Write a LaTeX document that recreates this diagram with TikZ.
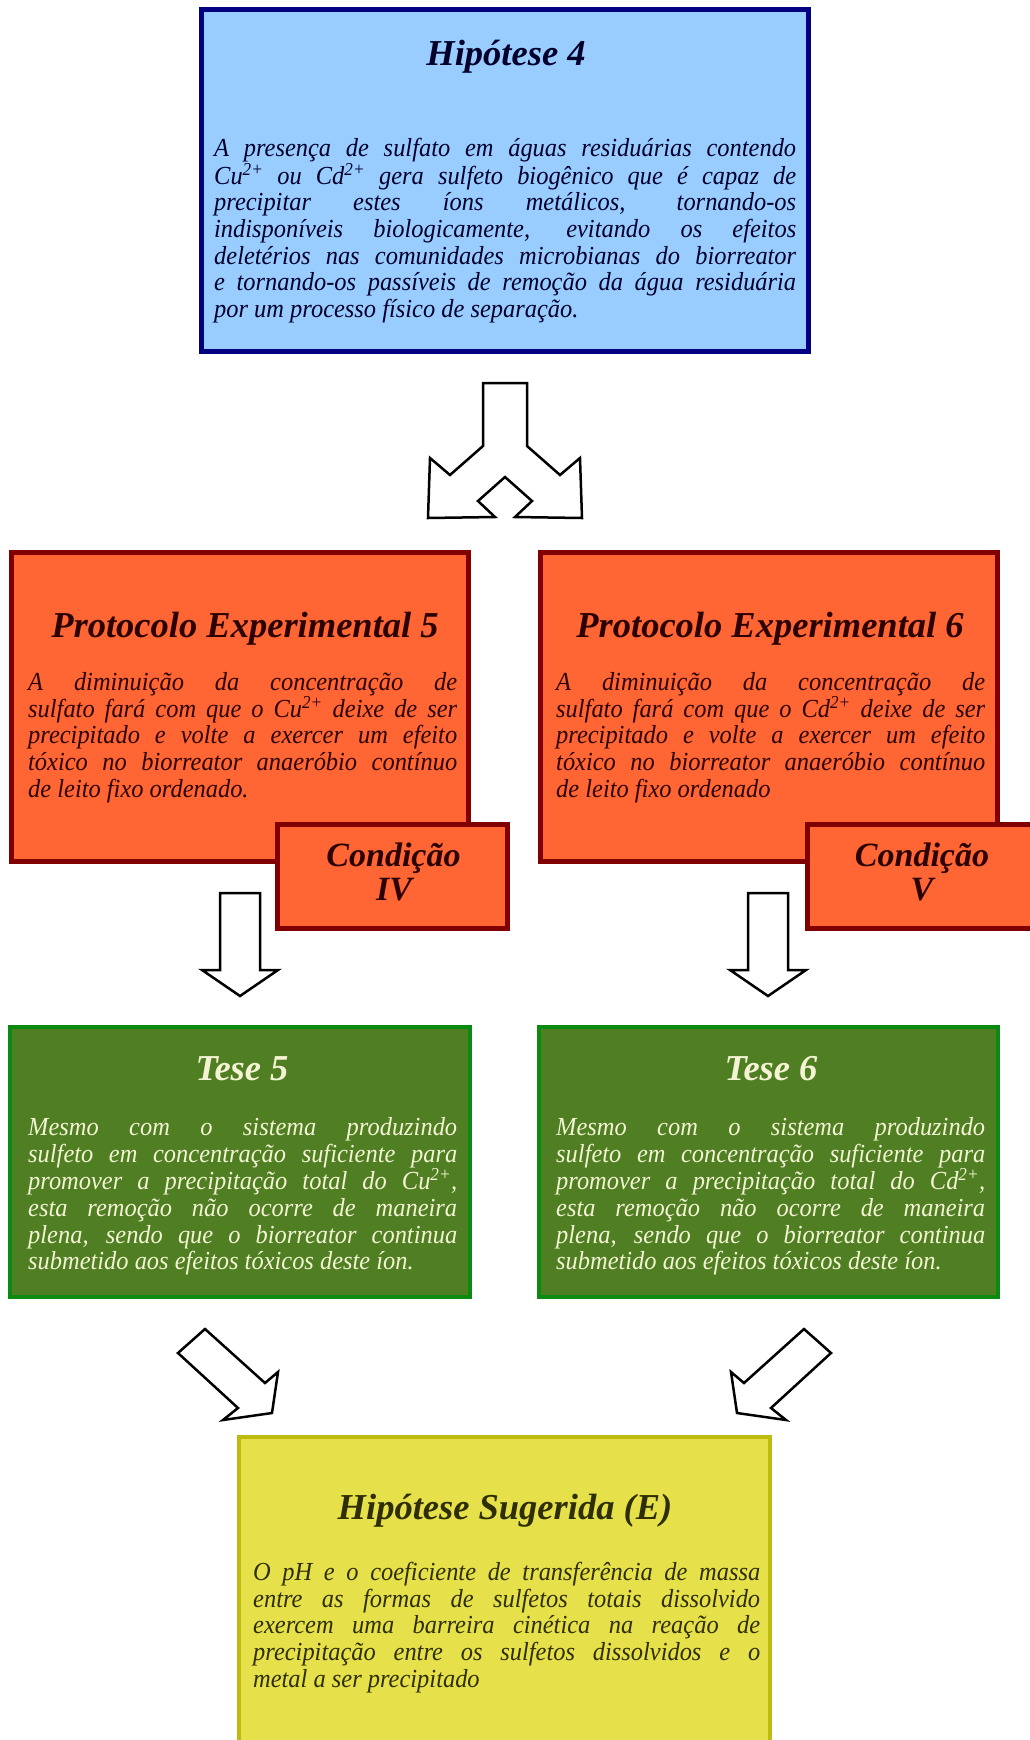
\documentclass[tikz,border=0pt]{standalone}
\usepackage{fontspec}
\setmainfont{Liberation Serif}
\newfontfamily\bodyfam[FakeStretch=0.94]{Liberation Serif}
\definecolor{hypfill}{HTML}{99CCFF}
\definecolor{hypdraw}{HTML}{000080}
\definecolor{hyptext}{HTML}{00002B}
\definecolor{prfill}{HTML}{FF6633}
\definecolor{prdraw}{HTML}{800000}
\definecolor{prtext}{HTML}{2B0000}
\definecolor{tsfill}{HTML}{4F7F22}
\definecolor{tsdraw}{HTML}{0B8A12}
\definecolor{tstext}{HTML}{F4F4D4}
\definecolor{sgfill}{HTML}{E6E04A}
\definecolor{sgdraw}{HTML}{BDBA10}
\definecolor{sgtext}{HTML}{2E2E00}
\newlength\jwd
\newcommand\bodyfnt{\bodyfam\fontsize{26}{26.6}\selectfont\itshape}
\newcommand\ttlfnt{\fontsize{36.5}{30}\selectfont\bfseries\itshape}
\newcommand\cndfnt{\fontsize{34}{30}\selectfont\bfseries\itshape}
\newcommand\jline[1]{\makebox[\jwd][s]{#1}\\}
\newcommand\sst[1]{\setlength\jwd{#1}\spaceskip=0pt\xspaceskip=0pt\noindent\rule{0pt}{26pt}\ignorespaces}
\newcommand\tsup[1]{\textsuperscript{#1}}
\tikzset{
  box/.style={draw, rectangle, inner sep=0pt},
  bodytxt/.style={anchor=north west, inner sep=0pt, align=justify, font=\bodyfnt},
  ttl/.style={anchor=base, inner sep=0pt, font=\ttlfnt},
  cnd/.style={anchor=base, inner sep=0pt, font=\cndfnt},
  blockarrow/.style={draw=black, fill=white, line width=2.5pt, line join=miter},
}
\begin{document}
\begin{tikzpicture}[x=1pt, y=-1pt]
\useasboundingbox[fill=white] (0,0) rectangle (1029,1740);

% Hipotese 4
\node[box, fill=hypfill, draw=hypdraw, line width=5pt, minimum width=607pt, minimum height=342pt] (hyp4) at (504.5,180) {};
\node[ttl, text=hyptext] (hyp4t) at (506,65) {Hipótese 4};
\node[bodytxt, text=hyptext, text width=582pt] (hyp4b) at (214,130.5) {\sst{582pt}%
\jline{A presença de sulfato em águas residuárias contendo}%
\jline{Cu\tsup{2+} ou Cd\tsup{2+} gera sulfeto biogênico que é capaz de}%
\jline{precipitar estes íons metálicos, tornando-os}%
\jline{indisponíveis biologicamente, evitando os efeitos}%
\jline{deletérios nas comunidades microbianas do biorreator}%
\jline{e tornando-os passíveis de remoção da água residuária}%
por um processo físico de separação.};

% split arrow
\draw[blockarrow] (483,383) -- (527,383) -- (527,446) -- (560,475) -- (580,458) -- (582,518) -- (515,517) -- (532,501) -- (505,477) -- (478,501) -- (495,517) -- (428,518) -- (430,458) -- (450,475) -- (483,446) -- cycle;

% Protocolo 5
\node[box, fill=prfill, draw=prdraw, line width=5pt, minimum width=457pt, minimum height=309pt] (p5) at (239.5,706.5) {};
\node[ttl, text=prtext] (p5t) at (245,637) {Protocolo Experimental 5};
\node[bodytxt, text=prtext, text width=429pt] (p5b) at (28,664.5) {\sst{429pt}%
\jline{A diminuição da concentração de}%
\jline{sulfato fará com que o Cu\tsup{2+} deixe de ser}%
\jline{precipitado e volte a exercer um efeito}%
\jline{tóxico no biorreator anaeróbio contínuo}%
de leito fixo ordenado.};
\node[box, fill=prfill, draw=prdraw, line width=5pt, minimum width=230pt, minimum height=104pt] (c4) at (392,876) {};
\node[cnd, text=prtext] (c4a) at (393.5,866) {Condição};
\node[cnd, text=prtext] (c4b) at (394,900) {IV};

% Protocolo 6
\node[box, fill=prfill, draw=prdraw, line width=5pt, minimum width=457pt, minimum height=309pt] (p6) at (768.5,706.5) {};
\node[ttl, text=prtext] (p6t) at (770,637) {Protocolo Experimental 6};
\node[bodytxt, text=prtext, text width=429pt] (p6b) at (556,664.5) {\sst{429pt}%
\jline{A diminuição da concentração de}%
\jline{sulfato fará com que o Cd\tsup{2+} deixe de ser}%
\jline{precipitado e volte a exercer um efeito}%
\jline{tóxico no biorreator anaeróbio contínuo}%
de leito fixo ordenado};
\node[box, fill=prfill, draw=prdraw, line width=5pt, minimum width=230pt, minimum height=104pt] (c5) at (922,876) {};
\node[cnd, text=prtext] (c5a) at (922,866) {Condição};
\node[cnd, text=prtext] (c5b) at (922,900) {V};

% down arrows
\draw[blockarrow] (220,893) -- (260,893) -- (260,970) -- (278,970) -- (240,996) -- (202,970) -- (220,970) -- cycle;
\draw[blockarrow] (748,893) -- (788,893) -- (788,970) -- (806,970) -- (768,996) -- (730,970) -- (748,970) -- cycle;

% Tese 5
\node[box, fill=tsfill, draw=tsdraw, line width=4.5pt, minimum width=460pt, minimum height=270pt] (t5) at (240,1162) {};
\node[ttl, text=tstext] (t5t) at (242,1080) {Tese 5};
\node[bodytxt, text=tstext, text width=429pt] (t5b) at (28,1109.5) {\sst{429pt}%
\jline{Mesmo com o sistema produzindo}%
\jline{sulfeto em concentração suficiente para}%
\jline{promover a precipitação total do Cu\tsup{2+},}%
\jline{esta remoção não ocorre de maneira}%
\jline{plena, sendo que o biorreator continua}%
submetido aos efeitos tóxicos deste íon.};

% Tese 6
\node[box, fill=tsfill, draw=tsdraw, line width=4.5pt, minimum width=459pt, minimum height=270pt] (t6) at (768.5,1162) {};
\node[ttl, text=tstext] (t6t) at (771,1080) {Tese 6};
\node[bodytxt, text=tstext, text width=429pt] (t6b) at (556,1109.5) {\sst{429pt}%
\jline{Mesmo com o sistema produzindo}%
\jline{sulfeto em concentração suficiente para}%
\jline{promover a precipitação total do Cd\tsup{2+},}%
\jline{esta remoção não ocorre de maneira}%
\jline{plena, sendo que o biorreator continua}%
submetido aos efeitos tóxicos deste íon.};

% diagonal arrows
\draw[blockarrow] (205,1329) -- (265,1383) -- (278,1372) -- (272,1413) -- (223,1420) -- (238,1408) -- (178,1353) -- cycle;
\draw[blockarrow] (804,1329) -- (744,1383) -- (731,1372) -- (737,1413) -- (786,1420) -- (771,1408) -- (831,1353) -- cycle;

% Hipotese sugerida
\node[box, fill=sgfill, draw=sgdraw, line width=4.5pt, minimum width=531pt, minimum height=330pt] (hypE) at (504.5,1602) {};
\node[ttl, text=sgtext] (hypEt) at (505,1519) {Hipótese Sugerida (E)};
\node[bodytxt, text=sgtext, text width=507pt] (hypEb) at (253,1554.5) {\sst{507pt}%
\jline{O pH e o coeficiente de transferência de massa}%
\jline{entre as formas de sulfetos totais dissolvido}%
\jline{exercem uma barreira cinética na reação de}%
\jline{precipitação entre os sulfetos dissolvidos e o}%
metal a ser precipitado};
\end{tikzpicture}
\end{document}
